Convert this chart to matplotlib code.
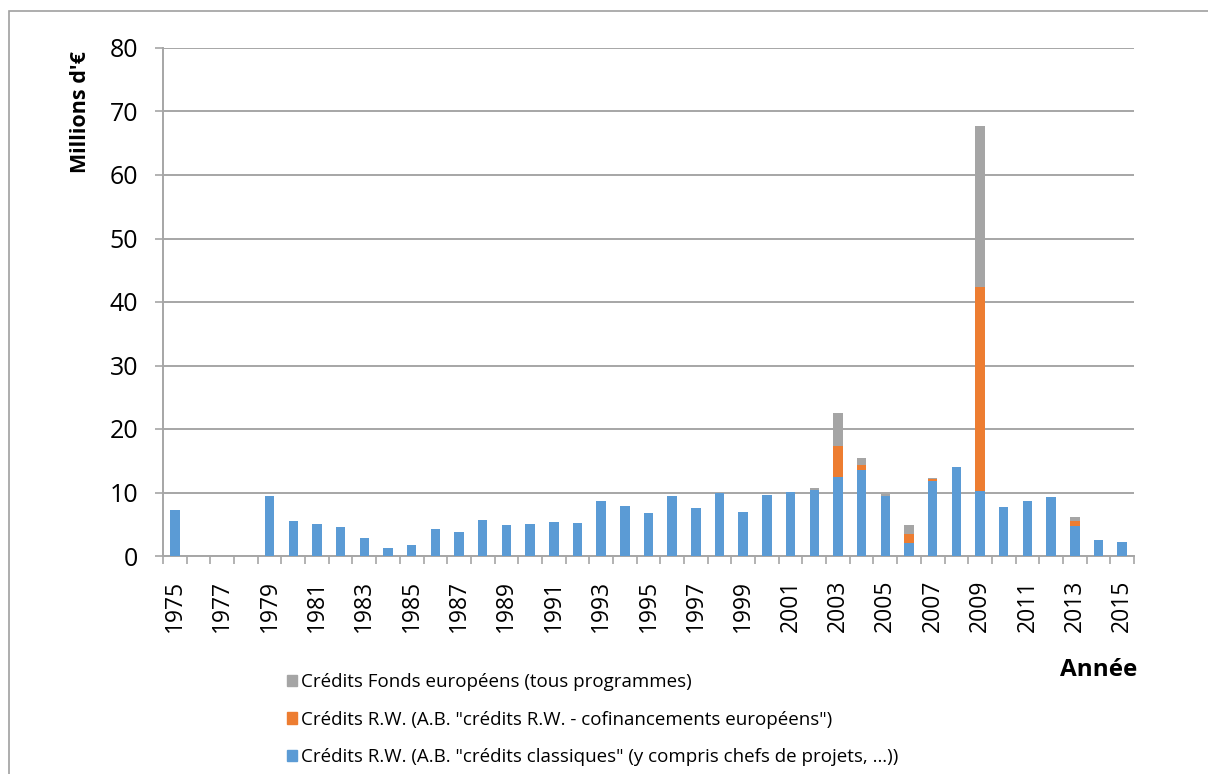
import matplotlib
matplotlib.use("Agg")
import matplotlib.pyplot as plt
from matplotlib.patches import Rectangle, Patch
import numpy as np

plt.rcParams['font.family'] = ['Open Sans', 'DejaVu Sans']

years = list(range(1975, 2016))

# Crédits R.W. classiques (millions d'€)
credits_classiques = [7.2, 0, 0, 0, 9.5, 5.5, 5.0, 4.5, 2.9, 1.3,
                      1.7, 4.3, 3.8, 5.7, 4.9, 5.0, 5.4, 5.2, 8.7, 7.8,
                      6.7, 9.5, 7.5, 10.0, 6.9, 9.6, 10.1, 10.4, 12.5, 13.6,
                      9.5, 2.0, 11.8, 14.0, 10.2, 7.7, 8.7, 9.3, 4.8, 2.5,
                      2.2]
# Crédits R.W. - cofinancements européens
credits_cofinancement = [0, 0, 0, 0, 0, 0, 0, 0, 0, 0,
                         0, 0, 0, 0, 0, 0, 0, 0, 0, 0,
                         0, 0, 0, 0, 0, 0, 0, 0, 4.9, 0.8,
                         0, 1.4, 0.3, 0, 32.2, 0, 0, 0, 0.7, 0,
                         0]
# Crédits Fonds européens
credits_fonds_europeens = [0, 0, 0, 0, 0, 0, 0, 0, 0, 0,
                           0, 0, 0, 0, 0, 0, 0, 0, 0, 0,
                           0, 0, 0, 0, 0, 0, 0, 0.3, 5.1, 1.0,
                           0.3, 1.5, 0.2, 0, 25.3, 0, 0, 0, 0.7, 0,
                           0]

series_labels = [
    'Crédits R.W. (A.B. "crédits classiques" (y compris chefs de projets, …))',
    'Crédits R.W. (A.B. "crédits R.W. - cofinancements européens")',
    'Crédits Fonds européens (tous programmes)',
]
colors = ['#5B9BD5', '#ED7D31', '#A5A5A5']

W, H = 1208, 774
fig = plt.figure(figsize=(W / 100, H / 100), dpi=100)
ax = fig.add_axes([163 / W, 1 - 556 / H, (1134 - 163) / W, (556 - 48) / H])

x = np.arange(len(years))
blue = np.array(credits_classiques)
orange = np.array(credits_cofinancement)
grey = np.array(credits_fonds_europeens)
bw = 0.4
ax.bar(x, blue, bw, color=colors[0], zorder=3)
ax.bar(x, orange, bw, bottom=blue, color=colors[1], zorder=3)
ax.bar(x, grey, bw, bottom=blue + orange, color=colors[2], zorder=3)

grid_c = '#A6A6A6'
ax.set_ylim(0, 80)
ax.set_xlim(-0.5, len(years) - 0.5)
ax.set_yticks(np.arange(0, 81, 10))
ax.yaxis.grid(True, color=grid_c, linewidth=1.4, zorder=0)
for s in ['top', 'right']:
    ax.spines[s].set_visible(False)
for s in ['left', 'bottom']:
    ax.spines[s].set_color(grid_c)
    ax.spines[s].set_linewidth(1.4)

ax.tick_params(axis='y', length=6, width=1.2, color=grid_c, pad=12,
               labelsize=18, labelcolor='black')
ax.set_xticks(x[::2])
ax.set_xticklabels([str(y) for y in years[::2]], rotation=90, fontsize=16.5)
ax.set_xticks(np.arange(-0.5, len(years), 1), minor=True)
ax.tick_params(axis='x', which='major', length=0, pad=17)
ax.tick_params(axis='x', which='minor', length=6, width=1.2, color=grid_c)

fig.text(80 / W, 1 - 112 / H, "Millions d'€", rotation=90, fontsize=15.5,
         fontweight='bold', ha='center', va='center')
fig.text(1099 / W, 1 - 670 / H, "Année", fontsize=17.5, fontweight='bold',
         ha='center', va='center')

handles = [Patch(color=colors[2]), Patch(color=colors[1]), Patch(color=colors[0])]
labels = [series_labels[2], series_labels[1], series_labels[0]]
fig.legend(handles, labels, loc='upper left',
           bbox_to_anchor=(287 / W, 1 - 673 / H), frameon=False,
           fontsize=13.5, handlelength=0.55, handleheight=0.55,
           handletextpad=0.2, labelspacing=1.05, borderaxespad=0,
           borderpad=0)

fig.patches.append(Rectangle((9 / W, -0.1), 1.2, 1.1 - 11 / H,
                             transform=fig.transFigure, fill=False,
                             edgecolor='#A0A0A0', linewidth=1.2))

fig.savefig('out.png', dpi=100, facecolor='white')
